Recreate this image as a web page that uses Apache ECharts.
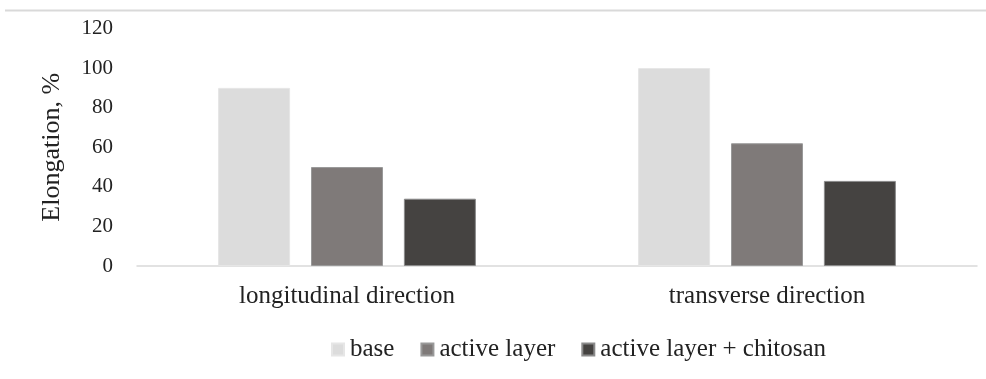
<!DOCTYPE html>
<html>
<head>
<meta charset="utf-8">
<script src="https://cdn.jsdelivr.net/npm/echarts@6/dist/echarts.min.js"></script>
<style>
  html, body { margin: 0; padding: 0; background: #fff; }
  #chart { width: 986px; height: 379px; }
</style>
</head>
<body>
<div id="chart"></div>
<script>
const categories = ["longitudinal direction", "transverse direction"];
const seriesNames = ["base", "active layer", "active layer + chitosan"];
const baseValues = [90, 100];
const activeValues = [50, 62];
const chitosanValues = [34, 43];
const colors = ["#dcdcdc", "#7f7a79", "#454341"];

const font = "Liberation Serif";
const chart = echarts.init(document.getElementById("chart"), null, { renderer: "canvas" });

chart.setOption({
  animation: false,
  textStyle: { fontFamily: font },
  graphic: [
    { type: "line", shape: { x1: 5, y1: 10.5, x2: 986, y2: 10.5 }, style: { stroke: "#d9d9d9", lineWidth: 2 } }
  ],
  grid: { left: 137, right: 9, top: 28.5, bottom: 113, containLabel: false },
  legend: {
    data: seriesNames,
    bottom: 12,
    left: 326,
    itemWidth: 12,
    itemHeight: 12,
    itemGap: 26,
    icon: "rect",
    textStyle: { fontFamily: font, fontSize: 25, color: "#222", padding: [0, 0, 0, 1] }
  },
  xAxis: {
    type: "category",
    data: categories,
    axisLine: { lineStyle: { color: "#d9d9d9", width: 1.5 } },
    axisTick: { show: false },
    axisLabel: { fontFamily: font, fontSize: 25, color: "#222", margin: 18 }
  },
  yAxis: {
    type: "value",
    min: 0,
    max: 120,
    interval: 20,
    name: "Elongation, %",
    nameLocation: "middle",
    nameGap: 72,
    nameRotate: 90,
    nameTextStyle: { fontFamily: font, fontSize: 26, color: "#222" },
    axisLine: { show: false },
    axisTick: { show: false },
    splitLine: { show: false },
    axisLabel: { fontFamily: font, fontSize: 21, color: "#222", margin: 24 }
  },
  series: [
    { name: seriesNames[0], type: "bar", data: baseValues, barWidth: 72, barGap: "29%",
      itemStyle: { color: colors[0], borderColor: "#e6e6e6", borderWidth: 1 } },
    { name: seriesNames[1], type: "bar", data: activeValues, barWidth: 72, barGap: "29%",
      itemStyle: { color: colors[1], borderColor: "#999", borderWidth: 1 } },
    { name: seriesNames[2], type: "bar", data: chitosanValues, barWidth: 72, barGap: "29%",
      itemStyle: { color: colors[2], borderColor: "#8a8a8a", borderWidth: 1 } }
  ]
});
</script>
</body>
</html>
